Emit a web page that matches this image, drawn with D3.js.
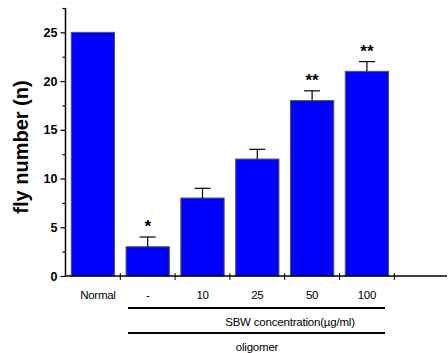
<!DOCTYPE html>
<html><head><meta charset="utf-8">
<script src="https://cdn.jsdelivr.net/npm/d3@7"></script>
<style>body{margin:0;background:#fff}svg{display:block}</style>
</head><body>
<script>
const categories = ["Normal", "-", "10", "25", "50", "100"];
const values = [25, 3, 8, 12, 18, 21];
const errors = [0, 1, 1, 1, 1, 1];
const stars = ["", "*", "", "", "**", "**"];
const yTicks = [0, 5, 10, 15, 20, 25];
const yMinorTicks = [2.5, 7.5, 12.5, 17.5, 22.5, 27.5];
const groupLabel1 = "SBW concentration(µg/ml)";
const groupLabel2 = "oligomer";
const yTitle = "fly number (n)";

const W = 448, H = 353;
const svg = d3.select("body").append("svg").attr("width", W).attr("height", H);
const x0 = 65.5, bandW = 54.8;
const x = d3.scaleBand().domain(categories).range([x0, x0 + bandW * categories.length]).paddingInner(0.21).paddingOuter(0.105);
const y = d3.scaleLinear().domain([0, 27.5]).range([276, 8]);

// bars
svg.selectAll("rect.bar").data(values).join("rect")
  .attr("x", (d, i) => x(categories[i]))
  .attr("y", d => y(d))
  .attr("width", x.bandwidth())
  .attr("height", d => y(0) - y(d))
  .attr("fill", "#0000FF").attr("stroke", "#555").attr("stroke-width", 1);

// error bars
const eg = svg.append("g").attr("stroke", "#000").attr("stroke-width", 1.2);
values.forEach((v, i) => {
  if (!errors[i]) return;
  const cx = x(categories[i]) + x.bandwidth() / 2;
  eg.append("line").attr("x1", cx).attr("x2", cx).attr("y1", y(v)).attr("y2", y(v + errors[i]));
  eg.append("line").attr("x1", cx - 8).attr("x2", cx + 8).attr("y1", y(v + errors[i])).attr("y2", y(v + errors[i]));
});

// stars
svg.selectAll("text.star").data(values).join("text")
  .attr("x", (d, i) => x(categories[i]) + x.bandwidth() / 2)
  .attr("y", (d, i) => y(d + errors[i]) - 5)
  .attr("text-anchor", "middle")
  .attr("font-family", "Liberation Sans, Arial, sans-serif")
  .attr("font-size", 17).attr("font-weight", "bold")
  .text((d, i) => stars[i]);

// y axis
const yAxis = svg.append("g").attr("transform", `translate(${x0},0)`)
  .call(d3.axisLeft(y).tickValues(yTicks).tickSize(5).tickPadding(3).tickFormat(d3.format("d")));
yAxis.select(".domain").remove();
yAxis.selectAll("line").attr("stroke", "#000").attr("stroke-width", 1.2);
yAxis.selectAll("text").attr("font-family", "Liberation Sans, Arial, sans-serif").attr("font-size", 12.5).attr("font-weight", "bold").attr("fill", "#000");
const yMinor = svg.append("g").attr("transform", `translate(${x0},0)`)
  .call(d3.axisLeft(y).tickValues(yMinorTicks).tickSize(3).tickFormat(""));
yMinor.select(".domain").remove();
yMinor.selectAll("line").attr("stroke", "#000").attr("stroke-width", 1.2);
svg.append("line").attr("x1", x0).attr("x2", x0).attr("y1", y(27.5)).attr("y2", y(0)).attr("stroke", "#000").attr("stroke-width", 1.5);

// x axis
svg.append("line").attr("x1", x0).attr("x2", 447).attr("y1", y(0)).attr("y2", y(0)).attr("stroke", "#000").attr("stroke-width", 1.6);
const bounds = categories.map((c, i) => x0 + bandW * (i + 1));
svg.selectAll("line.xt").data(bounds).join("line")
  .attr("x1", d => d).attr("x2", d => d).attr("y1", y(0) - 3).attr("y2", y(0) + 4)
  .attr("stroke", "#000").attr("stroke-width", 1);

// category labels
svg.selectAll("text.cat").data(categories).join("text")
  .attr("x", d => x(d) + x.bandwidth() / 2 + (d === "Normal" ? 5 : 0))
  .attr("y", 299)
  .attr("text-anchor", "middle")
  .attr("font-family", "Liberation Sans, Arial, sans-serif").attr("font-size", 11.5)
  .attr("letter-spacing", "-0.3")
  .text(d => d);

// group lines
const gx1 = 128, gx2 = 385;
svg.append("line").attr("x1", gx1).attr("x2", gx2).attr("y1", 308).attr("y2", 308).attr("stroke", "#000").attr("stroke-width", 2);
svg.append("line").attr("x1", gx1).attr("x2", gx2).attr("y1", 333).attr("y2", 333).attr("stroke", "#000").attr("stroke-width", 2);
svg.append("text").attr("x", 290).attr("y", 325.5).attr("text-anchor", "middle")
  .attr("font-family", "Liberation Sans, Arial, sans-serif").attr("font-size", 11.5).attr("letter-spacing", "-0.2").text(groupLabel1);
svg.append("text").attr("x", 257).attr("y", 351).attr("text-anchor", "middle")
  .attr("font-family", "Liberation Sans, Arial, sans-serif").attr("font-size", 11.5).attr("letter-spacing", "-0.2").text(groupLabel2);

// y title
svg.append("text").attr("transform", "translate(28,147) rotate(-90)").attr("text-anchor", "middle")
  .attr("font-family", "Liberation Sans, Arial, sans-serif").attr("font-size", 20).attr("font-weight", "bold")
  .text(yTitle);
</script>
</body></html>
